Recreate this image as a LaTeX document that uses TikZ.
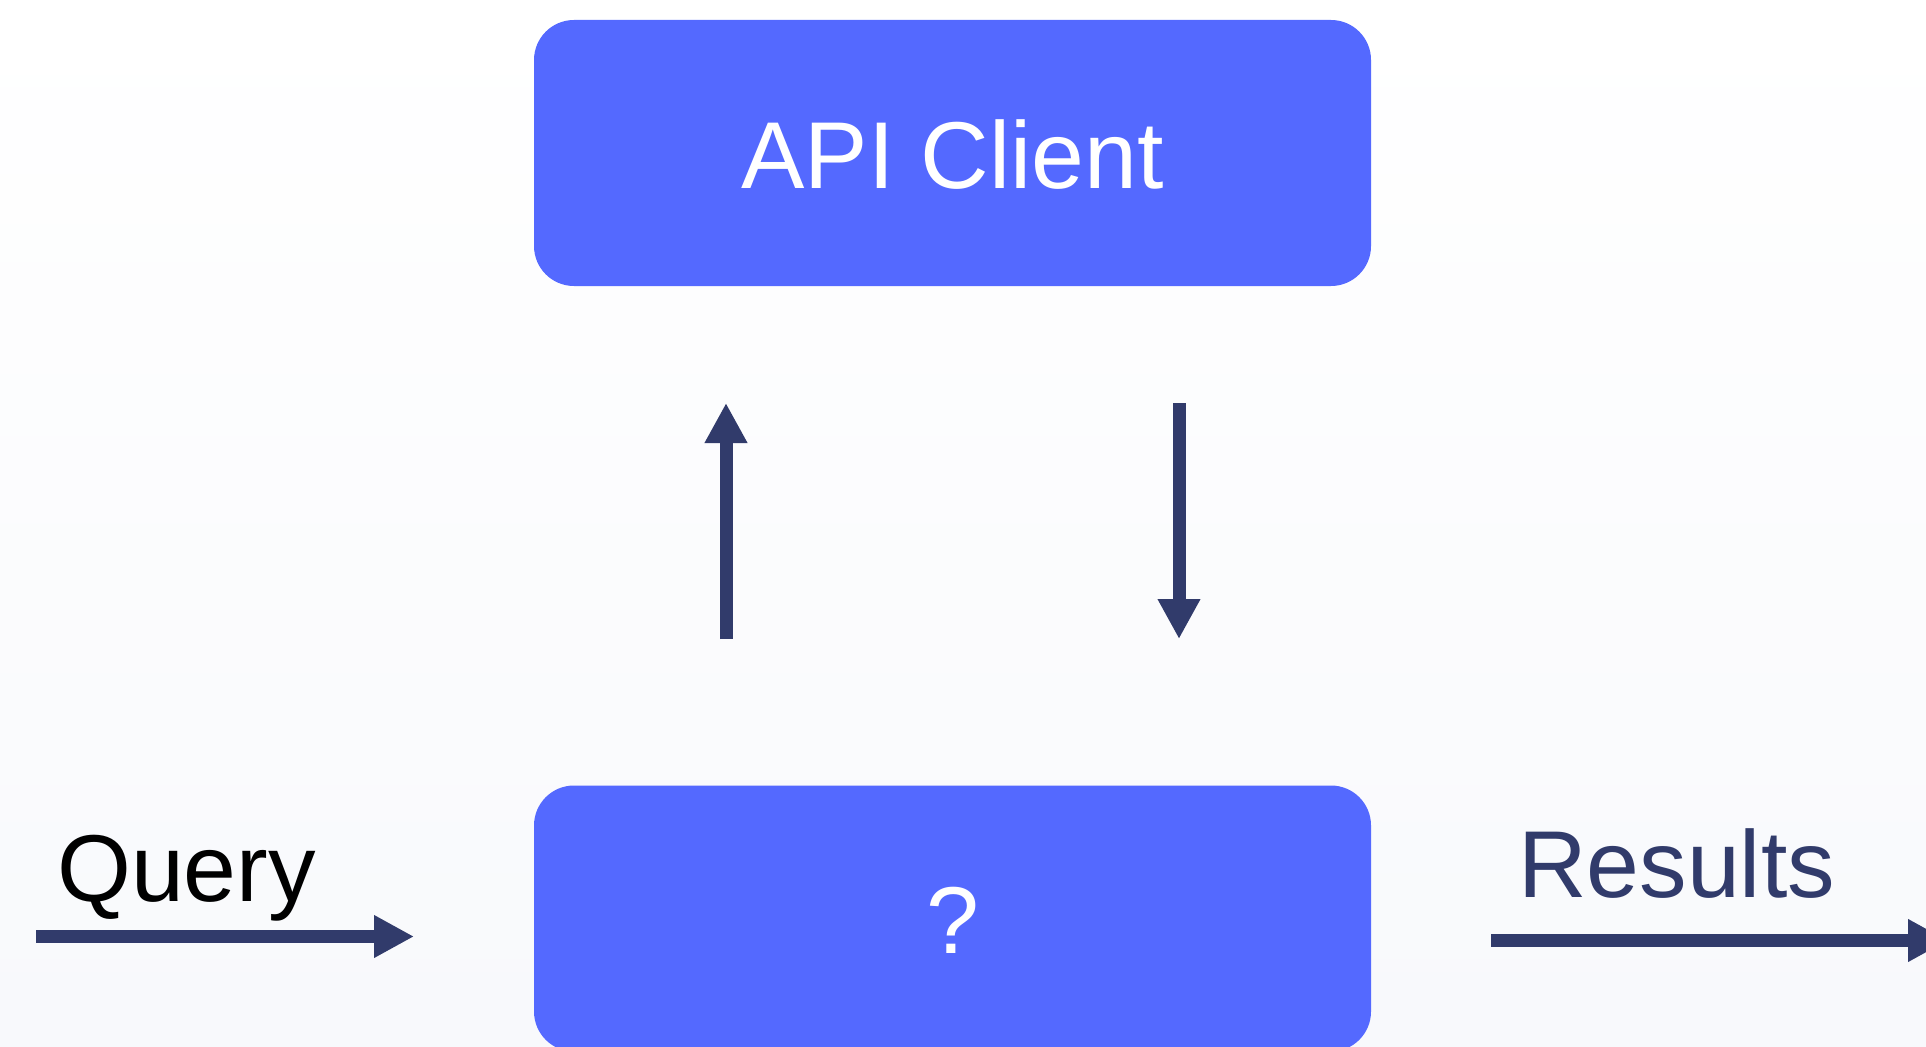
\documentclass[tikz,border=0pt]{standalone}
\usepackage{fontspec}
\setmainfont{Liberation Sans}
\usetikzlibrary{arrows.meta}
\definecolor{boxblue}{HTML}{5469FF}
\definecolor{navy}{HTML}{313B6B}
\definecolor{bgbot}{HTML}{F8F9FC}
\tikzset{
  block/.style={draw=none, fill=boxblue, rounded corners=40pt, minimum width=837pt, minimum height=266pt, inner sep=0pt, text=white, font=\fontsize{95}{110}\selectfont, text height=70pt, text depth=0pt},
  lbl/.style={inner sep=0pt, anchor=base west, font=\fontsize{95}{110}\selectfont},
  flow/.style={draw=navy, line width=13pt, -{Triangle[length=40pt,width=40pt]}}
}
\begin{document}
\begin{tikzpicture}[x=1pt,y=-1pt]
\useasboundingbox (0,0) rectangle (1926,1046);
\clip (0,0) rectangle (1926,1046);
\shade[top color=white, bottom color=bgbot] (0,0) rectangle (1926,1046);
\node[block] (api) at (952.5,153) {API Client};
\node[block] (unk) at (952.5,918.5) {?};
\node[lbl, text=black] (query) at (57,901) {Query};
\node[lbl, text=navy] (results) at (1518,897) {Results};
\coordinate (upS) at (726,639);
\coordinate (upE) at (726,403);
\coordinate (dnS) at (1179,403);
\coordinate (dnE) at (1179,639);
\coordinate (qS) at (36,936.5);
\coordinate (qE) at (414,936.5);
\coordinate (rS) at (1491,940.5);
\coordinate (rE) at (1948,940.5);
\draw[flow] (upS) -- (upE);
\draw[flow] (dnS) -- (dnE);
\draw[flow] (qS) -- (qE);
\draw[flow] (rS) -- (rE);
\end{tikzpicture}
\end{document}
